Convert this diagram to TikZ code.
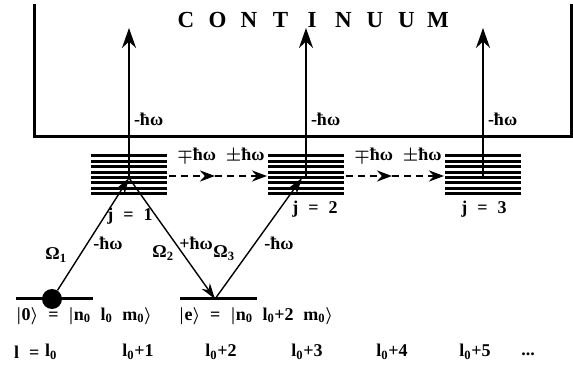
\documentclass[tikz,border=0pt]{standalone}
\usepackage{amsmath,amssymb}
\usepackage[no-math]{fontspec}
\setmainfont{Liberation Serif}
\newfontfamily\lblfont{Liberation Serif}[WordSpace=2.2]
\usetikzlibrary{arrows.meta}

\begin{document}
\begin{tikzpicture}[x=1pt,y=-1pt,
  lbl/.style={font=\lblfont\fontsize{18}{20}\selectfont\bfseries\boldmath,inner sep=0pt},
  big/.style={font=\fontsize{23}{25}\selectfont\bfseries,inner sep=0pt},
  stackline/.style={line width=3pt},
  lvl/.style={line width=3pt},
  trans/.style={line width=1.4pt,-{Stealth[length=16pt,width=10pt]}},
  ion/.style={line width=2pt,-{Stealth[length=20pt,width=14pt]}},
  hop/.style={line width=2.5pt,dash pattern=on 7pt off 5pt,-{Stealth[length=15pt,width=11pt]}}]
  \useasboundingbox (0,0) rectangle (573,387);
  % Continuum box
  \draw[line width=3pt] (34,4) -- (34,137) -- (571,137) -- (571,4);
  \foreach \c [count=\i from 0] in {C,O,N,T,I,N,U,U,M}
    \node[big] (c\i) at (186+31.5*\i,20) {\c};
  % Band stacks j = 1,2,3
  \foreach \j/\x in {1/129,2/306,3/483}{
    \foreach \k in {0,...,7}
      \draw[stackline] (\x-38,156+5.4*\k) -- (\x+38,156+5.4*\k);
    \coordinate (top\j) at (\x,176);
    \coordinate (cont\j) at (\x,28);
    \draw[ion] (top\j) -- (cont\j) node[lbl,pos=0.38,right=4pt] (w\j) {-ħω};
  }
  % Hops between stacks
  \coordinate (h1a) at (169,176); \coordinate (h1m) at (215,176); \coordinate (h1b) at (267,176);
  \coordinate (h2a) at (346,176); \coordinate (h2m) at (392,176); \coordinate (h2b) at (444,176);
  \draw[hop] (h1a) -- (h1m);
  \draw[hop] (h1m) -- (h1b);
  \draw[hop] (h2a) -- (h2m);
  \draw[hop] (h2m) -- (h2b);
  \node[lbl] (hl1) at (221,155) {$\mp$ħω $\pm$ħω};
  \node[lbl] (hl2) at (398,155) {$\mp$ħω $\pm$ħω};
  \node[lbl] (jl1) at (130,216) {j = 1};
  \node[lbl] (jl2) at (315,209) {j = 2};
  \node[lbl] (jl3) at (484,209) {j = 3};
  % Bound levels
  \draw[lvl] (16,299) -- (93,299);
  \draw[lvl] (180,299) -- (257,299);
  \node[circle,fill,minimum size=20pt,inner sep=0pt] (g0) at (52,299) {};
  \coordinate (ex) at (215,299);
  \coordinate (j1) at (129,178);
  \coordinate (j2) at (302,178);
  % Raman-type transitions
  \draw[trans] (g0) -- (j1);
  \draw[trans] (j1) -- (ex);
  \draw[trans] (ex) -- (j2);
  \node[lbl] (om1) at (56,255) {Ω\textsubscript{1}};
  \node[lbl] (w1a) at (108,243) {-ħω};
  \node[lbl] (om2) at (163,253) {Ω\textsubscript{2}};
  \node[lbl] (w2a) at (196,243) {+ħω};
  \node[lbl] (om3) at (224,253) {Ω\textsubscript{3}};
  \node[lbl] (w3a) at (279,243) {-ħω};
  % State labels
  \node[lbl] (s0) at (84,316) {$|$0$\rangle$ = $|$n\textsubscript{0} l\textsubscript{0} m\textsubscript{0}$\rangle$};
  \node[lbl] (se) at (256,316) {$|$e$\rangle$ = $|$n\textsubscript{0} l\textsubscript{0}+2 m\textsubscript{0}$\rangle$};
  % Angular momentum row
  \node[lbl,anchor=west] (lrow) at (14,352) {l =};
  \node[lbl] (l0) at (51,352) {l\textsubscript{0}};
  \node[lbl] (l1) at (138,352) {l\textsubscript{0}+1};
  \node[lbl] (l2) at (221,352) {l\textsubscript{0}+2};
  \node[lbl] (l3) at (307,352) {l\textsubscript{0}+3};
  \node[lbl] (l4) at (392,352) {l\textsubscript{0}+4};
  \node[lbl] (l5) at (475,352) {l\textsubscript{0}+5};
  \node[lbl] (dots) at (528,354) {...};
\end{tikzpicture}
\end{document}
